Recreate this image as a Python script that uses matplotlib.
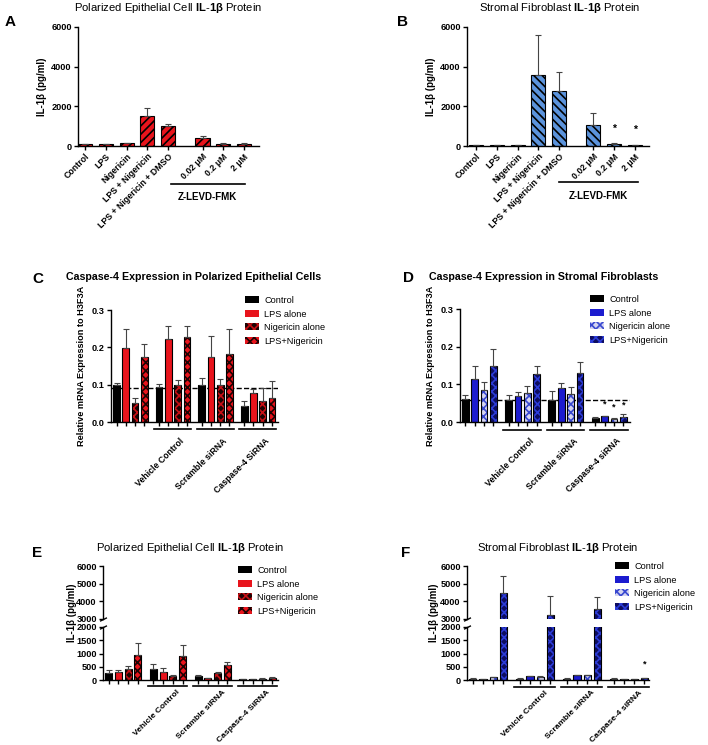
import matplotlib.pyplot as plt
import numpy as np
from matplotlib.patches import Patch

plt.rcParams['font.family'] = ['Liberation Sans', 'DejaVu Sans']
plt.rcParams['font.weight'] = 'bold'
plt.rcParams['mathtext.fontset'] = 'custom'
plt.rcParams['mathtext.rm'] = 'Liberation Sans'
plt.rcParams['mathtext.bf'] = 'Liberation Sans:bold'
plt.rcParams['hatch.linewidth'] = 1.2
plt.rcParams['axes.linewidth'] = 1.0

# ---- data ----
# A / B: IL-1b protein, single series
ab_labels = ['Control', 'LPS', 'Nigericin', 'LPS + Nigericin', 'LPS + Nigericin + DMSO',
             '0.02 μM', '0.2 μM', '2 μM']
a_vals = [80, 100, 130, 1530, 1000, 420, 120, 120]
a_tops = [100, 110, 150, 1920, 1090, 500, 140, 140]
b_vals = [30, 60, 30, 3600, 2750, 1080, 120, 40]
b_tops = [40, 70, 40, 5620, 3740, 1660, 170, 50]

series = ['Control', 'LPS alone', 'Nigericin alone', 'LPS+Nigericin']
groups_ep = ['Vehicle Control', 'Scramble siRNA', 'Caspase-4 SiRNA']
groups_fb = ['Vehicle Control', 'Scramble siRNA', 'Caspase-4 siRNA']

# C: caspase-4 mRNA, epithelial (4 groups: none, vehicle, scramble, casp-4)
c_control = [0.100, 0.094, 0.100, 0.044]
c_control_top = [0.105, 0.103, 0.119, 0.057]
c_lps = [0.197, 0.223, 0.173, 0.078]
c_lps_top = [0.248, 0.256, 0.230, 0.088]
c_nig = [0.050, 0.100, 0.098, 0.055]
c_nig_top = [0.063, 0.113, 0.116, 0.092]
c_both = [0.175, 0.228, 0.182, 0.064]
c_both_top = [0.210, 0.256, 0.248, 0.110]
c_ref = 0.09

# D: caspase-4 mRNA, fibroblasts
d_control = [0.061, 0.058, 0.058, 0.011]
d_control_top = [0.072, 0.072, 0.083, 0.012]
d_lps = [0.115, 0.070, 0.089, 0.015]
d_lps_top = [0.150, 0.080, 0.104, 0.017]
d_nig = [0.086, 0.077, 0.075, 0.008]
d_nig_top = [0.105, 0.095, 0.093, 0.010]
d_both = [0.148, 0.127, 0.129, 0.013]
d_both_top = [0.195, 0.150, 0.158, 0.022]
d_ref = 0.059

# E: IL-1b protein, epithelial
e_control = [250, 430, 150, 30]
e_control_top = [380, 620, 200, 40]
e_lps = [300, 300, 90, 30]
e_lps_top = [380, 440, 90, 40]
e_nig = [430, 150, 260, 50]
e_nig_top = [540, 170, 320, 60]
e_both = [940, 890, 560, 90]
e_both_top = [1400, 1310, 680, 120]

# F: IL-1b protein, fibroblasts
f_control = [50, 50, 50, 50]
f_control_top = [70, 60, 60, 70]
f_lps = [20, 150, 170, 40]
f_lps_top = [20, 160, 180, 50]
f_nig = [100, 100, 170, 40]
f_nig_top = [120, 150, 190, 50]
f_both = [4450, 3250, 3550, 60]
f_both_top = [5430, 4330, 4220, 80]

red = '#e8141c'
blue = '#1c1ccf'
red_styles = [('k', None, None), (red, None, None),
              ('#1e0303', 'xxxx', '#c81016'), (red, 'xxxx', '#1e0303')]
blue_styles = [('k', None, None), (blue, None, None),
               ('#d4d4f0', 'xxxx', '#3848d0'), ('#0d0d60', 'xxxx', '#2c3cd8')]

W, H = 708, 745
fig = plt.figure(figsize=(W / 100, H / 100), dpi=100)


def box(x0, y0, x1, y1):
    return fig.add_axes([x0 / W, 1 - y1 / H, (x1 - x0) / W, (y1 - y0) / H])


def style(ax):
    ax.spines[['top', 'right']].set_visible(False)
    ax.tick_params(length=3, width=1, labelsize=6.6, pad=1.5)


def ftext(x, y, s, **kw):
    fig.text(x / W, 1 - y / H, s, ha='center', va='center', **kw)


def up_err(ax, x, vals, tops):
    ax.errorbar(x, vals, yerr=[np.zeros(len(vals)), np.subtract(tops, vals)], fmt='none',
                ecolor='#444444', elinewidth=0.8, capsize=2, capthick=0.8)


def grouped(ax, vals, tops, styles, step=4.6, w=0.72):
    for i, (v, t, (fc, hatch, hc)) in enumerate(zip(vals, tops, styles)):
        x = np.arange(4) * step + i
        if hatch:
            ax.bar(x, v, w, color=fc, edgecolor=hc, hatch=hatch, lw=0)
            ax.bar(x, v, w, fill=False, edgecolor='k', lw=0.8)
        else:
            ax.bar(x, v, w, color=fc, edgecolor='k', lw=0.8)
        up_err(ax, x, v, t)


def xticks_grouped(ax, step=4.6):
    xt = (np.arange(4)[:, None] * step + np.arange(4)).ravel()
    ax.set_xticks(xt)
    ax.set_xticklabels([])


def group_marks(ax, names, yb, yt, step=4.6, dx=2.25, size=6.3):
    tr = ax.get_xaxis_transform()
    for g, name in enumerate(names, start=1):
        x0 = g * step
        ax.plot([x0 - 0.55, x0 + 3.45], [yb, yb], transform=tr, clip_on=False, color='k', lw=1.2)
        ax.text(x0 + dx, yt, name, transform=tr, rotation=45, ha='right', va='top',
                rotation_mode='anchor', fontsize=size, fontweight='bold')


def legend(x, y, styles):
    handles = [Patch(facecolor=fc, edgecolor=hc if hatch else fc, hatch=hatch, lw=0)
               for fc, hatch, hc in styles]
    fig.legend(handles, series, loc='upper left', bbox_to_anchor=(x / W, 1 - y / H),
               frameon=False, prop={'size': 6.6, 'weight': 'normal'}, handlelength=1.5,
               handleheight=0.8, handletextpad=0.6, labelspacing=0.5, borderpad=0,
               borderaxespad=0)


il_title = '{} $\\mathbf{{IL}}$-$\\mathbf{{1β}}$ Protein'
pos_ab = np.concatenate([np.arange(5), np.arange(3) + 5.67])

# ---- A ----
axA = box(78, 27, 259, 146)
axA.bar(pos_ab, a_vals, 0.68, color=red, edgecolor='k', hatch='////', lw=0.8)
up_err(axA, pos_ab, a_vals, a_tops)
axA.set_xlim(-0.35, 8.4)
axA.set_ylim(0, 6000)
axA.set_yticks([0, 2000, 4000, 6000])
style(axA)
axA.set_xticks(pos_ab)
axA.set_xticklabels(ab_labels, rotation=45, ha='right', rotation_mode='anchor', fontsize=6.3)
axA.set_ylabel('IL-1β (pg/ml)', fontsize=7, fontweight='bold', labelpad=3)
tr = axA.get_xaxis_transform()
axA.plot([pos_ab[5] - 1.5, pos_ab[7] + 0.05], [-0.32, -0.32], transform=tr, clip_on=False, color='k', lw=1.2)
axA.text((pos_ab[5] - 1.5 + pos_ab[7]) / 2, -0.43, 'Z-LEVD-FMK', transform=tr, ha='center', va='center', fontsize=7)

# ---- B ----
axB = box(467, 27, 649, 146)
axB.bar(pos_ab, b_vals, 0.68, color='#5b93dc', edgecolor='k', hatch='\\\\\\\\', lw=0.8)
up_err(axB, pos_ab, b_vals, b_tops)
axB.set_xlim(-0.45, 8.37)
axB.set_ylim(0, 6000)
axB.set_yticks([0, 2000, 4000, 6000])
style(axB)
axB.set_xticks(pos_ab)
axB.set_xticklabels(ab_labels, rotation=45, ha='right', rotation_mode='anchor', fontsize=6.3)
axB.set_ylabel('IL-1β (pg/ml)', fontsize=7, fontweight='bold', labelpad=3)
for k, ys in [(6, 870), (7, 790)]:
    axB.text(pos_ab[k], ys, '*', ha='center', va='center', fontsize=7.5)
tr = axB.get_xaxis_transform()
axB.plot([pos_ab[5] - 1.67, pos_ab[7] + 0.18], [-0.30, -0.30], transform=tr, clip_on=False, color='k', lw=1.2)
axB.text((pos_ab[5] - 1.67 + pos_ab[7] + 0.18) / 2, -0.42, 'Z-LEVD-FMK', transform=tr, ha='center', va='center', fontsize=7)

# ---- C ----
axC = box(111, 310, 278, 422)
axC.axhline(c_ref, ls='--', color='k', lw=1, zorder=0.5)
grouped(axC, [c_control, c_lps, c_nig, c_both],
        [c_control_top, c_lps_top, c_nig_top, c_both_top], red_styles)
axC.set_xlim(-0.6, 17.45)
axC.set_ylim(0, 0.3)
axC.set_yticks([0.0, 0.1, 0.2, 0.3])
style(axC)
xticks_grouped(axC)
axC.set_ylabel('Relative mRNA Expression to H3F3A', fontsize=6.6, fontweight='bold', labelpad=4)
group_marks(axC, groups_ep, -0.065, -0.13)
legend(245, 296, red_styles)

# ---- D ----
axD = box(460, 309, 630, 422)
axD.axhline(d_ref, ls='--', color='k', lw=1, zorder=0.5)
grouped(axD, [d_control, d_lps, d_nig, d_both],
        [d_control_top, d_lps_top, d_nig_top, d_both_top], blue_styles)
axD.set_xlim(-0.55, 17.5)
axD.set_ylim(0, 0.3)
axD.set_yticks([0.0, 0.1, 0.2, 0.3])
style(axD)
xticks_grouped(axD)
axD.set_ylabel('Relative mRNA Expression to H3F3A', fontsize=6.6, fontweight='bold', labelpad=4)
for i, ys in [(1, 0.047), (2, 0.041), (3, 0.045)]:
    axD.text(3 * 4.6 + i, ys, '*', ha='center', va='center', fontsize=6.5)
group_marks(axD, groups_fb, -0.07, -0.125)
legend(590, 295, blue_styles)


# ---- E / F: broken y axis ----
def broken(x0, x1, vals, tops, styles, xlim):
    top = box(x0, 566, x1, 619)
    bot = box(x0, 627, x1, 680)
    for ax in (top, bot):
        grouped(ax, vals, tops, styles)
        ax.set_xlim(*xlim)
        style(ax)
    top.set_ylim(3000, 6000)
    top.set_yticks([3000, 4000, 5000, 6000])
    top.spines['bottom'].set_visible(False)
    top.set_xticks([])
    bot.set_ylim(0, 2000)
    bot.set_yticks([0, 500, 1000, 1500, 2000])
    xticks_grouped(bot)
    mk = dict(marker=[(-1, -0.5), (1, 0.5)], markersize=5, linestyle='none', color='k', mew=1, clip_on=False)
    top.plot([0], [0], transform=top.transAxes, **mk)
    bot.plot([0], [1], transform=bot.transAxes, **mk)
    return top, bot


eT, eB = broken(103, 278, [e_control, e_lps, e_nig, e_both],
                [e_control_top, e_lps_top, e_nig_top, e_both_top], red_styles, (-0.58, 17.4))
group_marks(eB, groups_ep, -0.12, -0.165, dx=2.4, size=6.0)
legend(238, 566, red_styles)
ftext(72, 613, 'IL-1β (pg/ml)', rotation=90, fontsize=7, fontweight='bold')

fT, fB = broken(467, 649, [f_control, f_lps, f_nig, f_both],
                [f_control_top, f_lps_top, f_nig_top, f_both_top], blue_styles, (-0.57, 17.25))
fB.text(3 * 4.6 + 3, 585, '*', ha='center', va='center', fontsize=6.5)
group_marks(fB, groups_fb, -0.13, -0.175, dx=2.4, size=6.0)
legend(615, 562, blue_styles)
ftext(434, 613, 'IL-1β (pg/ml)', rotation=90, fontsize=7, fontweight='bold')

# ---- titles and panel letters ----
ftext(168, 8, il_title.format('Polarized Epithelial Cell'), fontsize=8.1, weight='normal')
ftext(560, 8, il_title.format('Stromal Fibroblast'), fontsize=8.1, weight='normal')
ftext(194, 277, 'Caspase-4 Expression in Polarized Epithelial Cells', fontsize=7.7)
ftext(544, 277, 'Caspase-4 Expression in Stromal Fibroblasts', fontsize=7.7)
ftext(190, 548, il_title.format('Polarized Epithelial Cell'), fontsize=8.1, weight='normal')
ftext(558, 548, il_title.format('Stromal Fibroblast'), fontsize=8.1, weight='normal')
for x, y, s in [(10, 22, 'A'), (402, 22, 'B'), (38, 279, 'C'), (408, 278, 'D'), (37, 553, 'E'), (406, 553, 'F')]:
    ftext(x, y, s, fontsize=11)

fig.savefig('out.png', dpi=100)
